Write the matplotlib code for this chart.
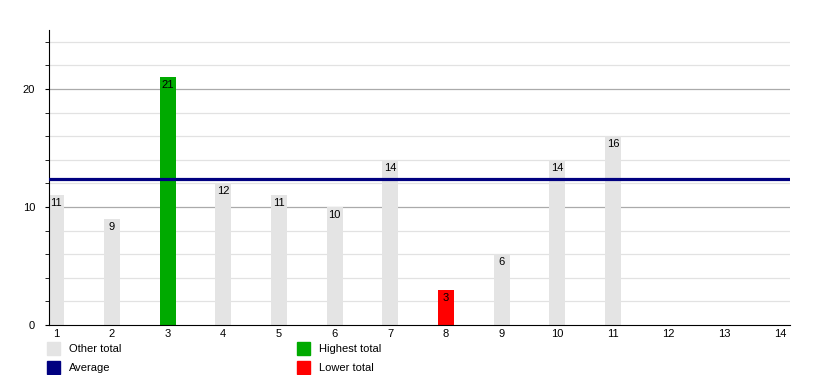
import matplotlib.pyplot as plt
from matplotlib.patches import Rectangle

plt.rcParams['font.family'] = ['Liberation Sans', 'DejaVu Sans']

categories = list(range(1, 15))
totals = [11, 9, 21, 12, 11, 10, 14, 3, 6, 14, 16, None, None, None]
average = 12.4

other_color = '#e4e4e4'
high_color = '#00aa00'
low_color = '#ff0000'
avg_color = '#000080'

fig = plt.figure(figsize=(8.18, 3.75), dpi=100)
ax = fig.add_axes([0.0599, 0.1333, 0.906, 0.7867])

vals = [v for v in totals if v is not None]
hi, lo = max(vals), min(vals)

# grid lines: light every 2, darker at 10s
for y in range(2, 26, 2):
    c = '#aaaaaa' if y % 10 == 0 else '#e2e2e2'
    ax.axhline(y, color=c, linewidth=0.9, zorder=0)

for x, v in zip(categories, totals):
    if v is None:
        continue
    color = high_color if v == hi else (low_color if v == lo else other_color)
    ax.bar(x, v, width=0.29, color=color, zorder=2)
    ax.text(x, v - 0.25, str(v), ha='center', va='top', fontsize=8, zorder=3)

ax.axhline(average, color=avg_color, linewidth=2.3, zorder=4)

ax.set_xlim(0.87, 14.18)
ax.set_ylim(0, 25)
ax.set_xticks(categories)
ax.set_xticklabels([str(c) for c in categories])
ax.set_yticks(range(0, 26, 2), minor=True)
ax.set_yticks([0, 10, 20])
ax.tick_params(axis='x', length=0, labelsize=8, pad=3)
ax.tick_params(axis='y', which='major', length=3, labelsize=8, pad=7)
ax.tick_params(axis='y', which='minor', length=3)
ax.spines['top'].set_visible(False)
ax.spines['right'].set_visible(False)

# legend below the plot
legend_items = [
    (47, 342, other_color, 'Other total'),
    (47, 361, avg_color, 'Average'),
    (297, 342, high_color, 'Highest total'),
    (297, 361, low_color, 'Lower total'),
]
W, H = 818, 375
for px, py, color, label in legend_items:
    fig.add_artist(Rectangle((px / W, 1 - (py + 13) / H), 13 / W, 13 / H,
                             transform=fig.transFigure, color=color))
    fig.text((px + 22) / W, 1 - (py + 7) / H, label, fontsize=8, va='center')

fig.savefig('out.png', dpi=100)
